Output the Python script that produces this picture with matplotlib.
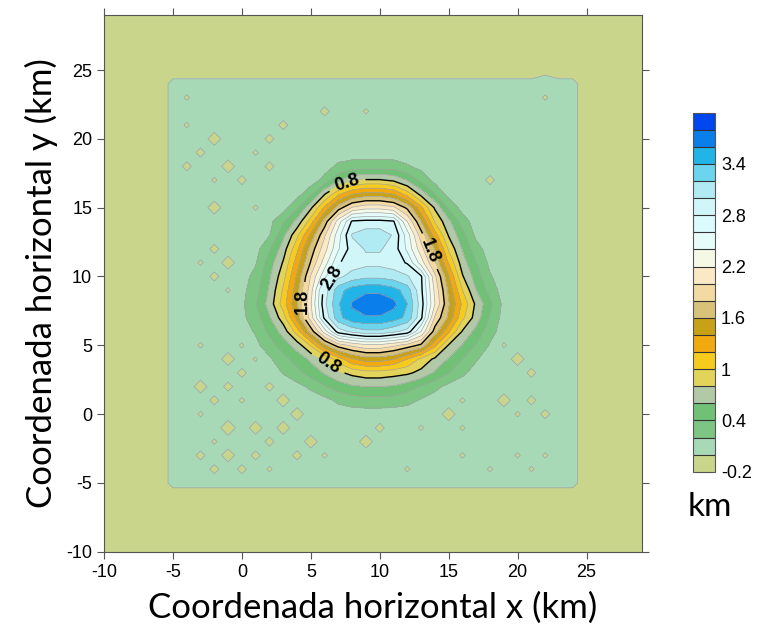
import numpy as np
import matplotlib.pyplot as plt

plt.rcParams['axes.unicode_minus'] = False

# grid nodes (km)
grid_x = np.arange(-10, 30)
grid_y = np.arange(-10, 30)

# background values
outside_value = -0.18
plateau_value = 0.1
plateau_x = (-5, 24)
plateau_y = (-5, 24)

# small dips on the plateau: node x, node y, value
dip_x = [-4, 6, 9, 3, -4, -2, 2, -3, 1, -1, -4, 2, 0, -2, -2, 1, -2, -3, -1, -2, -1, 18, 22, 22,
         -3, 0, 1, -1, -3, 0, 2, -1, -2, 0, 3, 4, -3, -1, 1, 3, -2, 2, 5, 9, -3, -1, 1, 4, 6,
         -2, 0, 2, 10, 12, 13, 16, 16, 18, 20, 22, 21,
         15, 19, 22, 21, 20, 21, 20, 19, 16]
dip_y = [23, 22, 22, 21, 21, 20, 20, 19, 19, 18, 18, 18, 17, 17, 15, 15, 12, 11, 11, 10, 9, 17, 23, 25,
         5, 5, 4, 4, 2, 3, 2, 2, 1, 1, 1, 0, 0, -1, -1, -1, -2, -2, -2, -2, -3, -3, -3, -3, -3,
         -4, -4, -4, -1, -4, -1, -1, -3, -4, -3, -3, -4,
         0, 1, 0, 1, 4, 3, 0, 5, 1]
dip_v = [-0.025, -0.05, -0.025, -0.05, -0.025, -0.09, -0.05, -0.05, -0.025, -0.09, -0.05, -0.05,
         -0.05, -0.025, -0.09, -0.025, -0.05, -0.025, -0.09, -0.05, -0.025, -0.05, -0.025, -0.06,
         -0.025, -0.025, -0.025, -0.09, -0.09, -0.05, -0.05, -0.05, -0.05, -0.025, -0.09, -0.09,
         -0.025, -0.12, -0.09, -0.09, -0.025, -0.05, -0.09, -0.09, -0.05, -0.09, -0.05, -0.05,
         -0.025, -0.05, -0.05, -0.025, -0.05, -0.025, -0.025, -0.025, -0.025, -0.025, -0.025,
         -0.025, -0.025,
         -0.09, -0.09, -0.05, -0.05, -0.09, -0.05, -0.025, -0.025, -0.025]

# central mound, rows y = -1..19, columns x = 0..20
mound_x0, mound_y0 = 0, -1
mound = [
    [0.1] * 21,
    [0.1] * 21,
    [0.1, 0.1, 0.1, 0.1, 0.1, 0.1, 0.14, 0.24, 0.3, 0.33, 0.33, 0.31, 0.26, 0.18, 0.1, 0.1, 0.1, 0.1, 0.1, 0.1, 0.1],
    [0.1, 0.1, 0.1, 0.1, 0.14, 0.24, 0.38, 0.5, 0.57, 0.6, 0.6, 0.58, 0.5, 0.38, 0.26, 0.14, 0.1, 0.1, 0.1, 0.1, 0.1],
    [0.1, 0.1, 0.12, 0.21, 0.34, 0.48, 0.62, 0.76, 0.86, 0.92, 0.92, 0.88, 0.84, 0.74, 0.57, 0.41, 0.24, 0.12, 0.1, 0.1, 0.1],
    [0.1, 0.1, 0.17, 0.33, 0.48, 0.64, 0.82, 1.1, 1.38, 1.5, 1.5, 1.42, 1.2, 0.95, 0.76, 0.58, 0.4, 0.22, 0.1, 0.1, 0.1],
    [0.1, 0.15, 0.31, 0.5, 0.69, 1.02, 1.55, 1.9, 2.05, 2.15, 2.15, 2.05, 1.92, 1.75, 1.25, 0.78, 0.58, 0.38, 0.18, 0.1, 0.1],
    [0.12, 0.22, 0.45, 0.68, 1.1, 1.68, 2.3, 2.9, 3.05, 3.15, 3.15, 3.05, 2.92, 2.4, 1.7, 1.23, 0.78, 0.53, 0.28, 0.1, 0.1],
    [0.15, 0.31, 0.58, 0.91, 1.47, 2.1, 2.85, 3.33, 3.55, 3.58, 3.58, 3.5, 3.35, 2.85, 1.97, 1.55, 1.05, 0.7, 0.38, 0.12, 0.1],
    [0.16, 0.38, 0.68, 1.1, 1.58, 2.18, 2.95, 3.38, 3.62, 3.72, 3.72, 3.66, 3.4, 2.9, 2.2, 1.62, 1.16, 0.75, 0.45, 0.14, 0.1],
    [0.14, 0.32, 0.63, 1.03, 1.52, 2.12, 2.9, 3.32, 3.5, 3.56, 3.56, 3.48, 3.3, 2.85, 2.15, 1.55, 1.0, 0.6, 0.32, 0.1, 0.1],
    [0.12, 0.26, 0.57, 0.93, 1.43, 2.02, 2.55, 2.95, 3.08, 3.15, 3.15, 3.1, 3.02, 2.83, 2.05, 1.42, 0.82, 0.5, 0.22, 0.1, 0.1],
    [0.1, 0.18, 0.5, 0.82, 1.3, 1.82, 2.3, 2.78, 2.9, 2.94, 2.94, 2.9, 2.78, 2.3, 1.78, 1.18, 0.69, 0.4, 0.15, 0.1, 0.1],
    [0.1, 0.13, 0.37, 0.7, 1.15, 1.68, 2.12, 2.58, 2.9, 3.02, 3.02, 2.92, 2.55, 2.08, 1.58, 0.97, 0.58, 0.28, 0.1, 0.1, 0.1],
    [0.1, 0.1, 0.19, 0.55, 0.95, 1.45, 1.97, 2.52, 3.02, 3.12, 3.12, 2.98, 2.5, 1.9, 1.3, 0.78, 0.47, 0.15, 0.1, 0.1, 0.1],
    [0.1, 0.1, 0.14, 0.37, 0.66, 1.1, 1.68, 2.3, 2.83, 2.86, 2.86, 2.82, 2.2, 1.6, 0.98, 0.65, 0.3, 0.1, 0.1, 0.1, 0.1],
    [0.1, 0.1, 0.1, 0.12, 0.36, 0.76, 1.23, 1.7, 2.02, 2.13, 2.13, 2.05, 1.75, 1.25, 0.77, 0.36, 0.12, 0.1, 0.1, 0.1, 0.1],
    [0.1, 0.1, 0.1, 0.1, 0.12, 0.33, 0.78, 1.15, 1.38, 1.47, 1.47, 1.38, 1.1, 0.72, 0.4, 0.12, 0.1, 0.1, 0.1, 0.1, 0.1],
    [0.1, 0.1, 0.1, 0.1, 0.1, 0.1, 0.26, 0.55, 0.75, 0.82, 0.82, 0.76, 0.58, 0.34, 0.13, 0.1, 0.1, 0.1, 0.1, 0.1, 0.1],
    [0.1, 0.1, 0.1, 0.1, 0.1, 0.1, 0.12, 0.24, 0.29, 0.3, 0.3, 0.29, 0.22, 0.14, 0.1, 0.1, 0.1, 0.1, 0.1, 0.1, 0.1],
    [0.1] * 21,
]

levels = [-0.2, 0.0, 0.2, 0.4, 0.6, 0.8, 1.0, 1.2, 1.4, 1.6, 1.8, 2.0, 2.2, 2.4, 2.6, 2.8,
          3.0, 3.2, 3.4, 3.6, 3.8, 4.0]
major_levels = [0.8, 1.8, 2.8]
colors = ['#c9d58a', '#a8d9b6', '#7cc583', '#70c176', '#b2c9a8', '#e2d45a', '#f5cc1e',
          '#f2a90e', '#c8a216', '#d8c27a', '#f2daa2', '#fbe8c4', '#f6f8e6', '#e6fcf8',
          '#dafafc', '#d0f6fa', '#b0eaf2', '#6cd4ec', '#22b4e6', '#0a7eea', '#0046ee']
cbar_ticks = [-0.2, 0.4, 1, 1.6, 2.2, 2.8, 3.4]
cbar_labels = ['-0.2', '0.4', '1', '1.6', '2.2', '2.8', '3.4']

# assemble the grid
Z = np.full((len(grid_y), len(grid_x)), outside_value)
in_x = (grid_x >= plateau_x[0]) & (grid_x <= plateau_x[1])
in_y = (grid_y >= plateau_y[0]) & (grid_y <= plateau_y[1])
Z[np.ix_(in_y, in_x)] = plateau_value
m = np.array(mound)
r0 = mound_y0 - grid_y[0]
c0 = mound_x0 - grid_x[0]
Z[r0:r0 + m.shape[0], c0:c0 + m.shape[1]] = m
for dx, dy, dv in zip(dip_x, dip_y, dip_v):
    Z[dy - grid_y[0], dx - grid_x[0]] = dv

fig = plt.figure(figsize=(7.61, 6.37), dpi=100)
ax = fig.add_axes([0.1367, 0.1339, 0.7065, 0.8426])

cf = ax.contourf(grid_x, grid_y, Z, levels=levels, colors=colors)
minor_levels = [lv for lv in levels if lv not in major_levels]
ax.contour(grid_x, grid_y, Z, levels=minor_levels, colors='#a4a4a4', linewidths=0.5)
cs = ax.contour(grid_x, grid_y, Z, levels=major_levels, colors='black', linewidths=1.0)
labels = ax.clabel(cs, inline=True, fontsize=13, fmt='%g',
                   manual=[(7.6, 16.8), (6.2, 3.6), (4.5, 8.2), (13.8, 11.9), (6.5, 9.9)])
for t in labels:
    t.set_family('Liberation Sans')
    t.set_fontweight('bold')

ax.set_xlim(-10, 29)
ax.set_ylim(-10, 29)
ax.set_xticks([-10, -5, 0, 5, 10, 15, 20, 25])
ax.set_yticks([-10, -5, 0, 5, 10, 15, 20, 25])
ax.tick_params(direction='out', length=5, width=0.8, top=True, right=True,
               labelsize=13, color='#555555')
for lab in ax.get_xticklabels() + ax.get_yticklabels():
    lab.set_family('Liberation Sans')
for s in ax.spines.values():
    s.set_color('#555555')
    s.set_linewidth(0.8)

ax.set_xlabel('Coordenada horizontal x (km)', family='Lato', fontsize=25, labelpad=8)
ax.set_ylabel('Coordenada horizontal y (km)', family='Lato', fontsize=25, labelpad=6)

cax = fig.add_axes([0.910, 0.2595, 0.0302, 0.5636])
cbar = fig.colorbar(cf, cax=cax, ticks=cbar_ticks, drawedges=True)
cbar.ax.set_yticklabels(cbar_labels, family='Liberation Sans', fontsize=13)
cbar.ax.tick_params(length=0, pad=4)
cbar.outline.set_edgecolor('#555555')
cbar.dividers.set_color('#333333')
cbar.dividers.set_linewidth(0.8)
fig.text(0.933, 0.204, 'km', family='Lato', fontsize=24, ha='center', va='center')

fig.savefig('out.png', dpi=100)
